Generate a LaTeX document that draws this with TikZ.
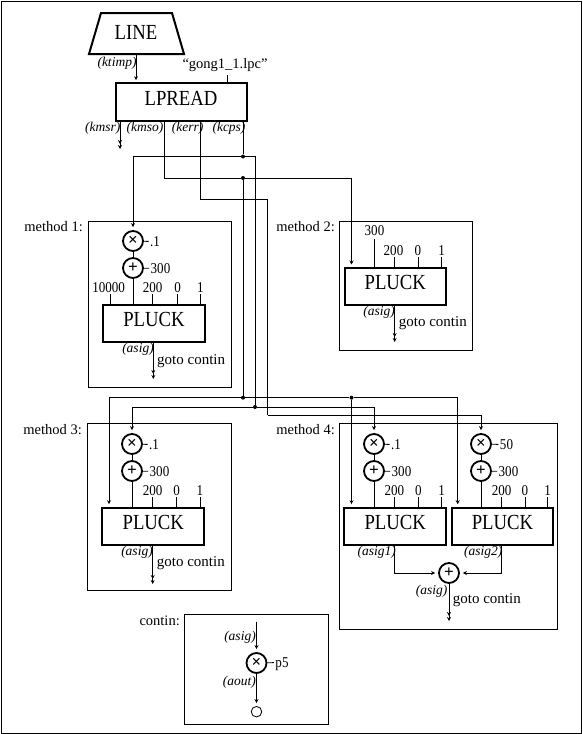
\documentclass[tikz,border=0pt]{standalone}
\usepackage{fontspec}
\setmainfont{Liberation Serif}
\newfontfamily\tallfont[FakeStretch=0.87]{Liberation Serif}
\usetikzlibrary{arrows.meta}
\tikzset{
	opbox/.style={draw,line width=2pt,minimum width=#1,minimum height=37pt,inner sep=0pt,text height=14.2pt,text depth=6.5pt,font=\tallfont\fontsize{21.5}{22}\selectfont},
	opcirc/.style={draw,circle,line width=1.8pt,minimum size=20pt,inner sep=0pt,font=\fontsize{17}{17}\selectfont\bfseries},
	endcirc/.style={draw,circle,line width=.8pt,minimum size=10.5pt,inner sep=0pt},
	frame/.style={draw,line width=.9pt},
	title/.style={inner sep=0pt,font=\fontsize{14.5}{15}\selectfont},
	val/.style={inner sep=0pt,outer sep=1.5pt,text height=10pt,text depth=0pt,font=\tallfont\fontsize{15}{15}\selectfont},
	sigtext/.style={inner sep=0pt,font=\fontsize{13.5}{14}\selectfont\itshape},
	gototext/.style={inner sep=0pt,anchor=west,font=\fontsize{15}{16}\selectfont},
	dot/.style={circle,fill,inner sep=0pt,minimum size=4pt},
	wire/.style={line width=.9pt},
	sig/.style={wire,-{Stealth[length=4pt,width=4pt]},shorten >=#1},
	sig/.default=2.5pt,
	goto/.style={wire,-{Stealth[length=4pt,width=4pt,sep=1pt]Stealth[length=4pt,width=4pt]}}
}
\begin{document}
\begin{tikzpicture}[x=1pt,y=1pt,yscale=-1]
	\useasboundingbox (0,0) rectangle (582,734);
	\draw[line width=1pt] (1,1) rectangle (581,733);

	%line and lpread
	\draw[line width=2pt] (101,13) -- (172,13) -- (184,54) -- (89,54) -- cycle;
	\draw (136,32) node[inner sep=0pt,font=\tallfont\fontsize{21.5}{22}\selectfont] (line) {LINE};
	\draw (181,101.7) node[opbox=131pt,minimum height=38pt] (lpr) {LPREAD};
	\coordinate (ltop) at (136,54);
	\coordinate (lin) at (136,82.7);
	\draw[sig] (ltop) -- (lin);
	\draw (117,63) node[sigtext] (ktimp) {(ktimp)};
	% Text Node
	\draw (225,65) node[title] (file) {``gong1\_1.lpc''};
	\coordinate (ftop) at (227,75);
	\draw[wire] (ftop) -- (ftop |- lpr.north);
	\draw (102.7,128.3) node[sigtext] (kmsrt) {(kmsr)};
	\draw (145,128.3) node[sigtext] (kmsot) {(kmso)};
	\draw (187.7,128.3) node[sigtext] (kerrt) {(kerr)};
	\draw (229,128.3) node[sigtext] (kcpst) {(kcps)};
	\coordinate (kmsr) at (120,120.7);
	\coordinate (kmsrend) at (120,149);
	\coordinate (kmso) at (164.7,120.7);
	\coordinate (kerr) at (200.7,120.7);
	\coordinate (kcps) at (243,120.7);
	\draw[goto] (kmsr) -- (kmsrend);

	%routing
	\draw (243,156.5) node[dot] (ja) {};
	\draw (243,178) node[dot] (jb) {};
	\draw (243,397.7) node[dot] (jc) {};
	\draw (255,407) node[dot] (jd) {};
	\draw (351.5,397.7) node[dot] (je) {};
	\coordinate (kerra) at (267.7,199);
	\coordinate (kerrb) at (267.7,415.3);
	\draw[wire] (kcps) -- (ja);
	\draw[wire] (kmso) |- (jb);
	\draw[wire] (jb) -- (jc);
	\draw[wire] (ja) -| (jd);
	\draw[wire] (kerr) |- (kerra) -- (kerrb);

	%method 1
	\draw (87.7,220.7) node[frame,anchor=north west,minimum width=143.5pt,minimum height=166.5pt,inner sep=0pt] (box1) {};
	\draw (83,227) node[title,anchor=east] (t1) {method 1:};
	\draw (133,241) node[opcirc] (mul1) {×};
	\draw (133,268) node[opcirc] (add1) {+};
	\draw (154,323) node[opbox=102pt] (plk1) {PLUCK};
	\draw (155,241.5) node[val] (m1) {.1};
	\draw (160.5,268.5) node[val] (a1) {300};
	\draw (108.7,287.5) node[val] (v11) {10000};
	\draw (152.7,287.5) node[val] (v12) {200};
	\draw (177.7,287.5) node[val] (v13) {0};
	\draw (200.3,287.5) node[val] (v14) {1};
	\draw[wire] (mul1) -- (add1);
	\draw[wire] (mul1) -- (m1);
	\draw[wire] (add1) -- (a1);
	\draw[wire] (add1) -- (add1 |- plk1.north);
	\draw[wire] (v11.south)++(2,0) -- (110.7,304);
	\draw[wire] (v12.south) -- (v12.south |- plk1.north);
	\draw[wire] (v13.south) -- (v13.south |- plk1.north);
	\draw[wire] (v14.south) -- (v14.south |- plk1.north);
	\draw[sig=3pt] (ja) -| (mul1.north);
	\coordinate (o1) at (153.3,341.7);
	\coordinate (e1) at (153.3,379);
	\draw[goto] (o1) -- (e1);
	\draw (138,349.5) node[sigtext] (s1) {(asig)};
	\draw (157,360.7) node[gototext] (g1) {goto contin};

	%method 2
	\draw (339.3,220.7) node[frame,anchor=north west,minimum width=133pt,minimum height=129.5pt,inner sep=0pt] (box2) {};
	\draw (335,227) node[title,anchor=east] (t2) {method 2:};
	\draw (395.3,286) node[opbox=101.5pt] (plk2) {PLUCK};
	\draw (374.5,230) node[val] (v21) {300};
	\draw (393.5,250.5) node[val] (v22) {200};
	\draw (418,250.5) node[val] (v23) {0};
	\draw (441.7,250.5) node[val] (v24) {1};
	\draw[wire] (v21.south)++(0,2.5) -- (v21.south |- plk2.north);
	\draw[wire] (v22.south)++(1,0) -- (394.5,267);
	\draw[wire] (v23.south) -- (v23.south |- plk2.north);
	\draw[wire] (v24.south) -- (v24.south |- plk2.north);
	\coordinate (p2) at (351.5,267);
	\draw[sig] (jb) -| (p2);
	\coordinate (o2) at (394.7,305);
	\coordinate (e2) at (394.7,342);
	\draw[goto] (o2) -- (e2);
	\draw (379,312) node[sigtext] (s2) {(asig)};
	\draw (398.7,323) node[gototext] (g2) {goto contin};

	%method 3
	\draw (86.7,423.3) node[frame,anchor=north west,minimum width=144pt,minimum height=166.7pt,inner sep=0pt] (box3) {};
	\draw (82,430) node[title,anchor=east] (t3) {method 3:};
	\draw (132,444) node[opcirc] (mul3) {×};
	\draw (132,471) node[opcirc] (add3) {+};
	\draw (153.3,526) node[opbox=102pt] (plk3) {PLUCK};
	\draw (154,444.5) node[val] (m3) {.1};
	\draw (159.5,471.5) node[val] (a3) {300};
	\draw (152.7,490.5) node[val] (v32) {200};
	\draw (176.7,490.5) node[val] (v33) {0};
	\draw (200,490.5) node[val] (v34) {1};
	\draw[wire] (mul3) -- (add3);
	\draw[wire] (mul3) -- (m3);
	\draw[wire] (add3) -- (a3);
	\draw[wire] (add3) -- (add3 |- plk3.north);
	\draw[wire] (v32.south) -- (v32.south |- plk3.north);
	\draw[wire] (v33.south) -- (v33.south |- plk3.north);
	\draw[wire] (v34.south) -- (v34.south |- plk3.north);
	\coordinate (p3) at (109,506.7);
	\draw[sig] (jc) -| (p3);
	\draw[sig=3pt] (jd) -| (mul3.north);
	\coordinate (o3) at (152.7,545);
	\coordinate (e3) at (152.7,584);
	\draw[goto] (o3) -- (e3);
	\draw (137,552.7) node[sigtext] (s3) {(asig)};
	\draw (156.7,563.5) node[gototext] (g3) {goto contin};

	%method 4
	\draw (339.3,423.3) node[frame,anchor=north west,minimum width=218pt,minimum height=205.7pt,inner sep=0pt] (box4) {};
	\draw (335,430) node[title,anchor=east] (t4) {method 4:};
	\draw (374,444) node[opcirc] (mul4a) {×};
	\draw (374,471) node[opcirc] (add4a) {+};
	\draw (481,444) node[opcirc] (mul4b) {×};
	\draw (481,471) node[opcirc] (add4b) {+};
	\draw (395.2,526) node[opbox=101.5pt] (plk4a) {PLUCK};
	\draw (502.5,526) node[opbox=101.5pt] (plk4b) {PLUCK};
	\draw (396,444.5) node[val] (m4a) {.1};
	\draw (401.5,471.5) node[val] (a4a) {300};
	\draw (506.5,444.5) node[val] (m4b) {50};
	\draw (508.5,471.5) node[val] (a4b) {300};
	\draw (394.3,490.5) node[val] (v42a) {200};
	\draw (418.3,490.5) node[val] (v43a) {0};
	\draw (441.7,490.5) node[val] (v44a) {1};
	\draw (501.7,490.5) node[val] (v42b) {200};
	\draw (525,490.5) node[val] (v43b) {0};
	\draw (547.7,490.5) node[val] (v44b) {1};
	\draw[wire] (mul4a) -- (add4a);
	\draw[wire] (mul4a) -- (m4a);
	\draw[wire] (add4a) -- (a4a);
	\draw[wire] (add4a) -- (add4a |- plk4a.north);
	\draw[wire] (mul4b) -- (add4b);
	\draw[wire] (mul4b) -- (m4b);
	\draw[wire] (add4b) -- (a4b);
	\draw[wire] (add4b) -- (add4b |- plk4b.north);
	\draw[wire] (v42a.south) -- (v42a.south |- plk4a.north);
	\draw[wire] (v43a.south) -- (v43a.south |- plk4a.north);
	\draw[wire] (v44a.south) -- (v44a.south |- plk4a.north);
	\draw[wire] (v42b.south) -- (v42b.south |- plk4b.north);
	\draw[wire] (v43b.south) -- (v43b.south |- plk4b.north);
	\draw[wire] (v44b.south) -- (v44b.south |- plk4b.north);
	\coordinate (p4a) at (351.5,506.7);
	\coordinate (p4b) at (457.7,506.7);
	\draw[wire] (jc) -- (je);
	\draw[sig] (je) -- (p4a);
	\draw[sig] (je) -| (p4b);
	\draw[sig=3pt] (jd) -| (mul4a.north);
	\draw[sig=3pt] (kerrb) -| (mul4b.north);
	\draw (449,573) node[opcirc] (add4) {+};
	\coordinate (o4a) at (394.3,545);
	\coordinate (o4b) at (501.7,545);
	\draw[sig=3pt] (o4a) |- (add4.west);
	\draw[sig=3pt] (o4b) |- (add4.east);
	\coordinate (e4) at (449,621);
	\draw[goto] (add4) -- (e4);
	\draw (376.7,552.7) node[sigtext] (s4a) {(asig1)};
	\draw (483.3,552.7) node[sigtext] (s4b) {(asig2)};
	\draw (431.7,591.7) node[sigtext] (s4) {(asig)};
	\draw (452.7,600) node[gototext] (g4) {goto contin};

	%contin
	\draw (184,613.7) node[frame,anchor=north west,minimum width=144.3pt,minimum height=110.3pt,inner sep=0pt] (box5) {};
	\draw (180,621) node[title,anchor=east] (t5) {contin:};
	\draw (256.5,663) node[opcirc] (mul5) {×};
	\draw (256.5,711.7) node[endcirc] (out5) {};
	\draw (282,662.5) node[val] (p5) {p5};
	\coordinate (i5) at (256.5,621.7);
	\draw[sig=3pt] (i5) -- (mul5.north);
	\draw[sig=3pt] (mul5) -- (out5);
	\draw[wire] (mul5) -- (p5);
	\draw (240,637.3) node[sigtext] (s5) {(asig)};
	\draw (239.3,682.3) node[sigtext] (s6) {(aout)};
\end{tikzpicture}
\end{document}
